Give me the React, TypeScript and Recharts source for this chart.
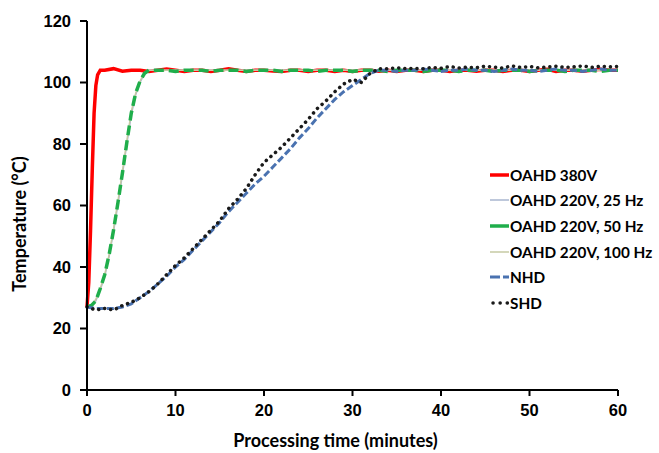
import { LineChart, Line, XAxis, YAxis } from "recharts";

document.body.style.margin = "0";

// time grid (minutes)
const minutes = [
  0, 1, 2, 3, 4, 5, 6, 7, 8, 9, 10, 11, 12, 13, 14, 15, 16, 17, 18, 19, 20,
  21, 22, 23, 24, 25, 26, 27, 28, 29, 30, 31, 32, 33, 34, 35, 36, 37, 38, 39, 40,
  41, 42, 43, 44, 45, 46, 47, 48, 49, 50, 51, 52, 53, 54, 55, 56, 57, 58, 59, 60,
];

// OAHD 380V
const redRiseTime = [0, 0.2, 0.4, 0.6, 0.8, 1.0, 1.2, 1.5];
const redRise = [27, 35, 52, 72, 90, 99, 102.5, 104];
const redPlateau = [
  104, 104.5, 103.7, 104, 104, 103.6, 104, 104.4, 104, 103.6,
  104, 104, 103.6, 104, 104.5, 104, 103.6, 104, 104, 103.7,
  103.6, 104, 104, 103.6, 104, 104, 103.6, 104, 103.6, 104,
  104, 103.7, 104, 103.6, 104, 104, 103.6, 104, 104, 103.6,
  104, 104, 103.7, 104, 104, 103.6, 104, 104, 103.6, 104,
  104.3, 103.6, 104, 104, 103.7, 104, 104.3, 104, 104,
]; // t = 2..60

// OAHD 220V (25 / 50 / 100 Hz) rise phase
const oahdRiseTime = [0, 0.5, 1, 1.5, 2, 2.5, 3, 3.5, 4, 4.5, 5, 5.5, 6, 6.5, 7];
const hz25Rise = [27, 27.5, 29, 32.5, 37, 43.5, 51.5, 60.5, 70, 80, 89.5, 96, 100, 103, 104];
const hz50Rise = [27, 27.5, 29, 33, 37.5, 44, 52, 61, 70.5, 80.5, 90, 96.5, 100.5, 103, 104];
const hz100Rise = [27, 27.5, 29.5, 33, 37.5, 44, 52.5, 61.5, 71, 81, 90.5, 96.5, 100.5, 103.2, 104];
const hz50Plateau = [
  104, 104, 103.6, 104, 104, 104, 103.6, 104, 104, 104,
  103.6, 104, 104, 104, 103.6, 104, 104, 104, 103.6, 104,
  104, 104, 103.6, 104, 104, 104, 103.6, 104, 104, 104,
  103.6, 104, 104, 104, 103.6, 104, 104, 104, 103.6, 104,
  104, 104, 103.6, 104, 104, 104, 103.6, 104, 104, 104,
  103.6, 104, 104,
]; // t = 8..60

// NHD and SHD, t = 0..60
const nhd = [
  27, 26.5, 26.5, 26.5, 27, 28, 30, 32, 34.5, 37, 40,
  42.5, 45.5, 48.5, 51.5, 54.5, 58, 61, 64, 67, 69.5,
  72.5, 75.5, 78.5, 82, 85, 88.5, 91.5, 94.5, 97, 99,
  101, 103, 104, 104, 103.6, 104, 104, 104.4, 104, 103.6,
  104, 104, 104.4, 104, 104, 103.6, 104, 104.4, 104, 104,
  103.6, 104, 104.4, 104, 104, 103.6, 104, 104.4, 104, 104,
];
const shd = [
  27, 26, 26.5, 26, 27.5, 28.5, 30, 32, 34.5, 37.5, 40.5,
  43, 46, 49, 52, 55, 59, 62, 65.5, 70, 74,
  76.5, 79, 82, 85, 88, 91.5, 94, 97, 99.5, 101,
  100, 103, 104.5, 104.5, 104.8, 104.5, 104.6, 104.5, 104.9, 104.6,
  105.2, 104.7, 105, 104.8, 105.3, 105, 104.7, 105.4, 104.9, 105.2,
  104.8, 105, 105.3, 104.9, 105.1, 105.4, 104.9, 105.3, 105.1, 105.2,
];

const yTicks = [0, 20, 40, 60, 80, 100, 120];
const xTicks = [0, 10, 20, 30, 40, 50, 60];

const pts = (t: number[], v: number[]) => t.map((x, i) => ({ t: x, v: v[i] }));
const redData = [...pts(redRiseTime, redRise), ...pts(minutes.slice(2), redPlateau)];
const hz50Data = [...pts(oahdRiseTime, hz50Rise), ...pts(minutes.slice(8), hz50Plateau)];
const hz25Data = [...pts(oahdRiseTime, hz25Rise), ...pts(minutes.slice(8), hz50Plateau.map(() => 104))];
const hz100Data = [...pts(oahdRiseTime, hz100Rise), ...pts(minutes.slice(8), hz50Plateau.map(() => 104))];
const nhdData = pts(minutes, nhd);
const shdData = pts(minutes, shd);

const series = [
  { name: "OAHD 380V", color: "#ff0000", width: 3.5, dash: "" },
  { name: "OAHD 220V, 25 Hz", color: "#a9b6cf", width: 1.5, dash: "" },
  { name: "OAHD 220V, 50 Hz", color: "#1fae4b", width: 3.5, dash: "" },
  { name: "OAHD 220V, 100 Hz", color: "#c6caa3", width: 1.5, dash: "" },
  { name: "NHD", color: "#4a72b0", width: 3, dash: "dash" },
  { name: "SHD", color: "#1a1a1a", width: 3.5, dash: "dot" },
];

const titleFont = "Lato, 'Open Sans', sans-serif";
const tickFont = "'Liberation Sans', Arial, sans-serif";

const LegendBox = () => (
  <div
    style={{
      position: "absolute",
      left: 490,
      top: 162,
      fontFamily: titleFont,
      fontWeight: 700,
      fontSize: 15.3,
      color: "#000",
    }}
  >
    {series.map((s) => (
      <div key={s.name} style={{ display: "flex", alignItems: "center", height: 25.6 }}>
        <svg width={19} height={10} style={{ marginRight: 1 }}>
          <line
            x1={s.dash === "dot" ? 3 : 0}
            y1={5}
            x2={19}
            y2={5}
            stroke={s.color}
            strokeWidth={s.width}
            strokeDasharray={s.dash === "dash" ? "10 3" : s.dash === "dot" ? "0.1 7" : undefined}
            strokeLinecap={s.dash === "dot" ? "round" : "butt"}
          />
        </svg>
        <span>{s.name}</span>
      </div>
    ))}
  </div>
);

export default function App() {
  return (
    <div style={{ position: "relative", width: 659, height: 453, background: "#fff", overflow: "hidden" }}>
      <LineChart width={659} height={453} margin={{ top: 21, right: 41, left: 0, bottom: 0 }}>
        <XAxis
          type="number"
          dataKey="t"
          domain={[0, 60]}
          ticks={xTicks}
          allowDuplicatedCategory={false}
          height={63}
          stroke="#000"
          strokeWidth={2}
          tickSize={6}
          tickMargin={8}
          tick={{ fill: "#000", fontSize: 16.5, fontWeight: 700, fontFamily: tickFont }}
          label={{
            value: "Processing time (minutes)",
            position: "insideBottom",
            dx: -17,
            dy: -1,
            style: { fill: "#000", fontSize: 18, fontWeight: 700, fontFamily: titleFont },
          }}
        />
        <YAxis
          type="number"
          domain={[0, 120]}
          ticks={yTicks}
          width={87}
          stroke="#000"
          strokeWidth={2}
          tickSize={7}
          tickMargin={9}
          tick={{ fill: "#000", fontSize: 16.5, fontWeight: 700, fontFamily: tickFont }}
          label={{
            content: () => (
              <text
                x={26}
                y={224}
                transform="rotate(-90 26 224)"
                textAnchor="middle"
                fill="#000"
                style={{ fontSize: 18, fontWeight: 700, fontFamily: titleFont }}
              >
                Temperature (°C)
              </text>
            ),
          }}
        />
        <Line data={redData} dataKey="v" name="OAHD 380V" type="linear" stroke="#ff0000" strokeWidth={3.5} dot={false} isAnimationActive={false} />
        <Line data={hz25Data} dataKey="v" name="OAHD 220V, 25 Hz" type="linear" stroke="#a9b6cf" strokeWidth={1.5} dot={false} isAnimationActive={false} />
        <Line data={hz100Data} dataKey="v" name="OAHD 220V, 100 Hz" type="linear" stroke="#c6caa3" strokeWidth={1.5} dot={false} isAnimationActive={false} />
        <Line data={hz50Data} dataKey="v" name="OAHD 220V, 50 Hz" type="linear" stroke="#1fae4b" strokeWidth={3.5} strokeDasharray="10 5" dot={false} isAnimationActive={false} />
        <Line data={nhdData} dataKey="v" name="NHD" type="linear" stroke="#4a72b0" strokeWidth={3} strokeDasharray="7 3" dot={false} isAnimationActive={false} />
        <Line data={shdData} dataKey="v" name="SHD" type="linear" stroke="#1a1a1a" strokeWidth={3.5} strokeDasharray="0.1 6" strokeLinecap="round" dot={false} isAnimationActive={false} />
      </LineChart>
      <LegendBox />
    </div>
  );
}
